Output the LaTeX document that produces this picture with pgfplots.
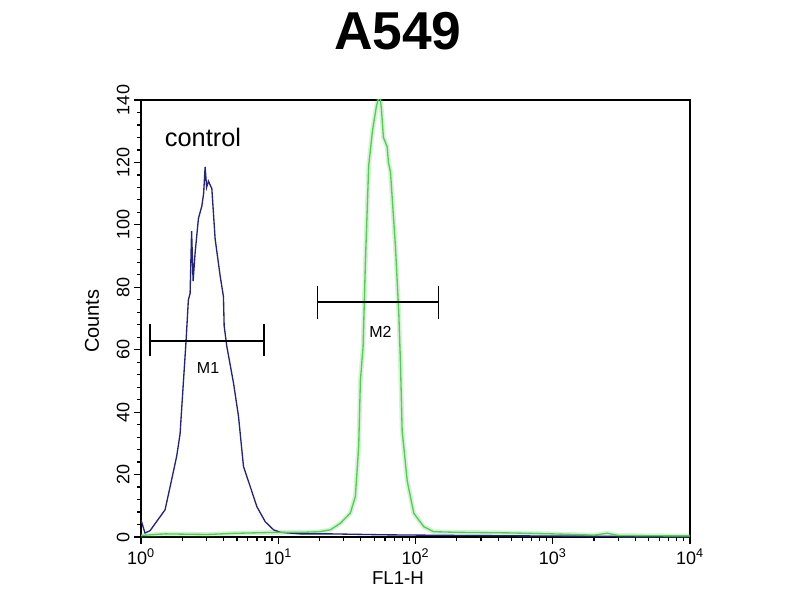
\documentclass[border=0pt]{standalone}
\usepackage{fontspec}
\setmainfont{Liberation Sans}
\usepackage{pgfplots}
\pgfplotsset{compat=1.18}
\usetikzlibrary{calc}
\definecolor{ctrlblue}{RGB}{35,35,130}
\definecolor{smpgreen}{RGB}{85,205,85}
\begin{document}
\begin{tikzpicture}
\begin{axis}[
  scale only axis,
  width=411.75pt, height=327.75pt,
  xmode=log, xmin=1, xmax=10000,
  ymin=0, ymax=140,
  xtick={1,10,100,1000,10000},
  xticklabels={10\textsuperscript{0},10\textsuperscript{1},10\textsuperscript{2},10\textsuperscript{3},10\textsuperscript{4}},
  minor xtick={2,3,4,5,6,7,8,9,20,30,40,50,60,70,80,90,200,300,400,500,600,700,800,900,2000,3000,4000,5000,6000,7000,8000,9000},
  ytick={0,20,40,60,80,100,120,140},
  yticklabels={0,20,40,60,80,100,120,140},
  minor y tick num=4,
  tick pos=left, tick align=outside,
  major tick length=5pt, minor tick length=3pt,
  every tick/.style={black, line width=0.9pt},
  axis line style={line width=1.1pt},
  tick label style={font=\fontsize{13.5}{15}\selectfont},
  yticklabel style={rotate=90, anchor=south, xshift=0pt},
  title={\textbf{A549}},
  title style={font=\fontsize{40}{44}\selectfont, at={(axis description cs:0.468,1)}, anchor=base, yshift=32pt},
  ylabel={Counts},
  ylabel style={font=\fontsize{15}{17}\selectfont, at={(axis description cs:-0.0893,0.494)}, anchor=center, rotate=0},
  xlabel={FL1-H},
  xlabel style={font=\fontsize{14}{16}\selectfont, at={(axis description cs:0.468,-0.0938)}, anchor=center},
  clip=true,
]
% sample (green) glow
\addplot[smpgreen, opacity=0.25, line width=3.5pt, line join=round] coordinates {
(1,0.5)(1.5,1)(3,0.8)(5,1.2)(10,1.5)(15,1.5)(20,1.7)(23.97,2.3)(28.35,4.4)(33.55,7.7)(36.48,13)(38.56,29)(39.68,50)(41.52,61)(43.15,88)(45.61,119)(48.55,130)(51.91,138)(54.88,142)(56.47,137)(58.40,128)(62.15,125)(63.52,120)(65.70,117)(71.45,93)(75.52,72)(77.70,56)(79.96,34)(87.01,18)(97.19,7.6)(115,3.3)(135.3,1.7)(200,1.5)(500,1.3)(1000,1)(2000,0.6)(2500,1.2)(3000,0.5)(10000,0.3)};
% control (blue)
\addplot[ctrlblue, line width=1pt] coordinates {
(1.000,5.5)(1.069,1.3)(1.163,2)(1.302,5)(1.497,8.7)(1.628,16)(1.822,26)(1.926,33)(2.036,49.5)(2.131,63)(2.214,76)(2.279,78)(2.337,98)(2.397,82)(2.479,91)(2.620,102)(2.774,106)(2.859,110)(2.933,118.6)(3.007,112)(3.099,114)(3.282,111.6)(3.469,95.5)(3.772,83.7)(3.988,77)(4.036,67.6)(4.222,61)(4.718,49.4)(5.132,38.7)(5.581,22.6)(6.246,16.2)(6.990,9.7)(8.038,4.9)(9.240,2.3)(10.34,1.5)(14.5,1)(24,1)(60,0.7)(200,0.5)(1000,0.3)(10000,0.2)};
% sample (green)
\addplot[smpgreen, line width=1pt] coordinates {
(1,0.5)(1.5,1)(3,0.8)(5,1.2)(10,1.5)(15,1.5)(20,1.7)(23.97,2.3)(28.35,4.4)(33.55,7.7)(36.48,13)(38.56,29)(39.68,50)(41.52,61)(43.15,88)(45.61,119)(48.55,130)(51.91,138)(54.88,142)(56.47,137)(58.40,128)(62.15,125)(63.52,120)(65.70,117)(71.45,93)(75.52,72)(77.70,56)(79.96,34)(87.01,18)(97.19,7.6)(115,3.3)(135.3,1.7)(200,1.5)(500,1.3)(1000,1)(2000,0.6)(2500,1.2)(3000,0.5)(10000,0.3)};
% marker M1
\addplot[black, line width=1.2pt] coordinates {(1.16,62.7)(7.9,62.7)};
\addplot[black, line width=1.2pt] coordinates {(1.16,57.9)(1.16,68.2)};
\addplot[black, line width=1.2pt] coordinates {(7.9,57.9)(7.9,68.2)};
% marker M2
\addplot[black, line width=1.2pt] coordinates {(19.3,75.2)(147,75.2)};
\addplot[black, line width=1.2pt] coordinates {(19.3,69.8)(19.3,80.4)};
\addplot[black, line width=1.2pt] coordinates {(147,69.8)(147,80.4)};
\node[font=\fontsize{12}{14}\selectfont] at (axis cs:3.08,54.3) {M1};
\node[font=\fontsize{12}{14}\selectfont] at (axis cs:55.5,65.6) {M2};
\node[font=\fontsize{19}{22}\selectfont] at (axis cs:2.83,128) {control};
\end{axis}
\pgfresetboundingbox
\path (current axis.south west) ++(-105.75pt,-47.25pt) rectangle ($(current axis.north east)+(82.5pt,75pt)$);
\end{tikzpicture}
\end{document}
